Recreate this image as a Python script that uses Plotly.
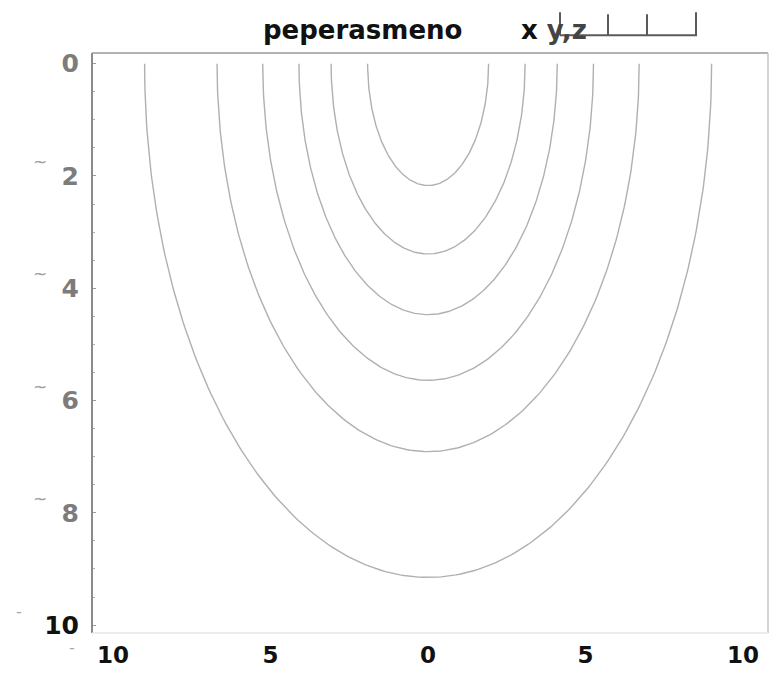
import numpy as np
import plotly.graph_objects as go

# Contour levels: horizontal half-width at the surface and depth of each curve
half_width = [1.92, 3.08, 4.10, 5.25, 6.70, 9.00]
depth = [2.17, 3.39, 4.47, 5.64, 6.91, 9.15]

# Axis ticks
x_tickvals = [-10, -5, 0, 5, 10]
x_ticktext = ["10", "5", "0", "5", "10"]
y_tickvals = [0, 2, 4, 6, 8, 10]
y_ticktext = ["0", "2", "4", "6", "8", "10"]

FONT = "DejaVu Sans"
CURVE_COLOR = "#b0b0b0"

fig = go.Figure()

theta = np.linspace(0.0, np.pi, 240)
for a, d in zip(half_width, depth):
    fig.add_trace(go.Scatter(
        x=a * np.cos(theta),
        y=d * np.sin(theta),
        mode="lines",
        line=dict(color=CURVE_COLOR, width=1.4),
        hoverinfo="skip",
        showlegend=False,
    ))

y_labels = [
    f"<span style='color:{'#111111' if t == '10' else '#7c7c7c'}'>{t}</span>"
    for t in y_ticktext
]

fig.update_layout(
    width=783,
    height=680,
    margin=dict(l=92, r=15, t=53, b=42),
    paper_bgcolor="white",
    plot_bgcolor="white",
    showlegend=False,
    xaxis=dict(
        range=[-10.67, 10.79],
        tickvals=x_tickvals,
        ticktext=x_ticktext,
        tickfont=dict(family=FONT, size=23, color="#111111", weight="bold"),
        showgrid=False,
        zeroline=False,
        showline=False,
        ticks="",
        ticklabelstandoff=6,
    ),
    yaxis=dict(
        range=[10.14, -0.19],
        tickvals=y_tickvals,
        ticktext=y_labels,
        tickfont=dict(family=FONT, size=25, color="#7c7c7c", weight="bold"),
        showgrid=False,
        zeroline=False,
        showline=False,
        ticks="inside",
        ticklen=4,
        tickcolor="#9a9a9a",
        minor=dict(dtick=0.5, ticks="inside", ticklen=3, tickcolor="#b0b0b0"),
        ticklabelstandoff=12,
    ),
)

# Frame around the plotting area
frame = [
    dict(x0=0, x1=0, y0=0, y1=1, color="#8a8a8a", width=2),
    dict(x0=0, x1=1, y0=1, y1=1, color="#9a9a9a", width=1.5),
    dict(x0=1, x1=1, y0=0, y1=1, color="#c4c4c4", width=1.5),
    dict(x0=0, x1=1, y0=0, y1=0, color="#e6e6e6", width=1.5),
]
for f in frame:
    fig.add_shape(type="line", xref="paper", yref="paper",
                  x0=f["x0"], x1=f["x1"], y0=f["y0"], y1=f["y1"],
                  line=dict(color=f["color"], width=f["width"]))


def px(xp):
    return (xp - 92) / 676


def py(yp):
    return (638 - yp) / 585


# Heading
fig.add_annotation(text="<b>peperasmeno</b>", xref="paper", yref="paper",
                   x=px(362), y=py(30),
                   xanchor="center", yanchor="middle", showarrow=False,
                   font=dict(family=FONT, size=26, color="#111111"))
fig.add_annotation(text="<b>x <span style='color:#444444'>y,z</span></b>",
                   xref="paper", yref="paper",
                   x=px(519), y=py(30),
                   xanchor="left", yanchor="middle", showarrow=False,
                   font=dict(family=FONT, size=26, color="#111111"))

# Scale bar next to the heading
bar_color = "#5a5a5a"
fig.add_shape(type="line", xref="paper", yref="paper",
              x0=px(560), x1=px(697), y0=py(35), y1=py(35),
              line=dict(color=bar_color, width=2))
for xt, ytop in [(560, 12), (608, 14), (647, 14), (696, 12)]:
    fig.add_shape(type="line", xref="paper", yref="paper",
                  x0=px(xt), x1=px(xt), y0=py(35), y1=py(ytop),
                  line=dict(color=bar_color, width=2))

# Small marks beside the depth labels
for yv in [2, 4, 6, 8]:
    fig.add_annotation(text="~", xref="paper", yref="y", x=px(31), y=yv,
                       yshift=14, showarrow=False,
                       font=dict(family=FONT, size=17, color="#9c9c9c"))
fig.add_annotation(text="-", xref="paper", yref="y", x=px(14), y=10,
                   yshift=14, showarrow=False,
                   font=dict(family=FONT, size=16, color="#a8a8a8"))
fig.add_annotation(text="-", xref="paper", yref="y", x=px(67), y=10,
                   yshift=-22, showarrow=False,
                   font=dict(family=FONT, size=16, color="#a8a8a8"))

fig.write_html("out.html")
